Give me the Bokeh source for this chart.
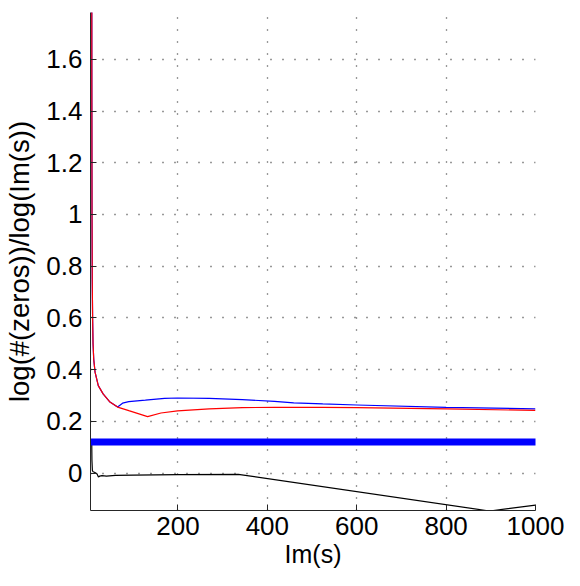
from bokeh.plotting import figure
from bokeh.models import Range1d, FixedTicker
from bokeh.embed import file_html
from bokeh.resources import INLINE

# ---- data ----
x_red = [7, 7.3, 7.7, 8.2, 9, 10, 11.5, 14.5, 21.7, 32.5, 47, 65, 90, 132, 162, 199, 270, 344, 416, 524, 600, 800, 1000]
y_red = [2.5, 1.5, 1.0, 0.75, 0.6, 0.5, 0.44, 0.39, 0.338, 0.306, 0.276, 0.255, 0.241, 0.218, 0.232, 0.24, 0.248, 0.253, 0.254, 0.254, 0.253, 0.248, 0.242]

x_blue = [7, 7.3, 7.7, 8.2, 9, 10, 11.5, 14.5, 21.7, 32.5, 47, 65, 76, 90, 127, 170, 199, 270, 344, 416, 459, 524, 600, 800, 1000]
y_blue = [2.5, 1.5, 1.0, 0.75, 0.6, 0.5, 0.44, 0.39, 0.338, 0.306, 0.276, 0.255, 0.27, 0.276, 0.282, 0.289, 0.29, 0.289, 0.284, 0.277, 0.271, 0.267, 0.263, 0.254, 0.248]

x_black = [7, 7.5, 8.5, 10, 13, 16, 19, 22, 25, 30, 40, 60, 100, 200, 335, 897, 1000]
y_black = [0.13, 0.05, 0.01, 0.005, 0.003, 0.0, -0.004, -0.015, -0.012, -0.01, -0.012, -0.009, -0.008, -0.006, -0.005, -0.147, -0.124]

x_const = [5, 1000]
y_const = [0.12, 0.12]

x_ticks = [200, 400, 600, 800, 1000]
y_ticks = [0, 0.2, 0.4, 0.6, 0.8, 1.0, 1.2, 1.4, 1.6]
y_tick_labels = ["0", "0.2", "0.4", "0.6", "0.8", "1", "1.2", "1.4", "1.6"]
x_title = "Im(s)"
y_title = "log(#(zeros))/log(Im(s))"

FONT = "Liberation Sans"

p = figure(width=564, height=570, output_backend="svg", toolbar_location=None,
           x_range=Range1d(4.3, 1000), y_range=Range1d(-0.145, 1.781),
           min_border_left=90, min_border_right=29, min_border_top=12, min_border_bottom=59)
p.outline_line_color = None
p.background_fill_color = "white"
p.border_fill_color = "white"

# curves
p.line(x_black, y_black, line_color="black", line_width=1.2)
p.line(x_const, y_const, line_color="#0000FF", line_width=7, line_cap="round")
p.line(x_blue, y_blue, line_color="#0000FF", line_width=1.2)
p.line(x_red, y_red, line_color="#FF0000", line_width=1.2)

# axes
for ax in (p.xaxis[0], p.yaxis[0]):
    ax.major_tick_in = 6
    ax.major_tick_out = 0
    ax.minor_tick_in = 0
    ax.minor_tick_out = 0
    ax.axis_line_color = "#262626"
    ax.major_tick_line_color = "#262626"
    ax.major_label_text_font = FONT
    ax.major_label_text_font_size = "26px"
    ax.major_label_text_color = "black"
    ax.axis_label_text_font = FONT
    ax.axis_label_text_font_size = "27.5px"
    ax.axis_label_text_font_style = "normal"
    ax.axis_label_text_color = "black"

p.xaxis.ticker = FixedTicker(ticks=x_ticks)
p.yaxis.ticker = FixedTicker(ticks=y_ticks)
p.yaxis.major_label_overrides = {t: l for t, l in zip(y_ticks, y_tick_labels)}
p.xaxis.axis_label = x_title
p.yaxis.axis_label = y_title
p.xaxis.axis_label_text_font_size = "25px"
p.xaxis.major_label_standoff = 6
p.xaxis.axis_label_standoff = 2
p.yaxis.major_label_standoff = 8
p.yaxis.axis_label_standoff = 8

# dotted grid
for g in (p.xgrid[0], p.ygrid[0]):
    g.grid_line_color = "#333333"
    g.grid_line_dash = "1 11"
    g.grid_line_width = 1.3
p.xgrid.ticker = FixedTicker(ticks=x_ticks)
p.ygrid.ticker = FixedTicker(ticks=y_ticks)

open("out.html", "w").write(file_html(p, INLINE))
